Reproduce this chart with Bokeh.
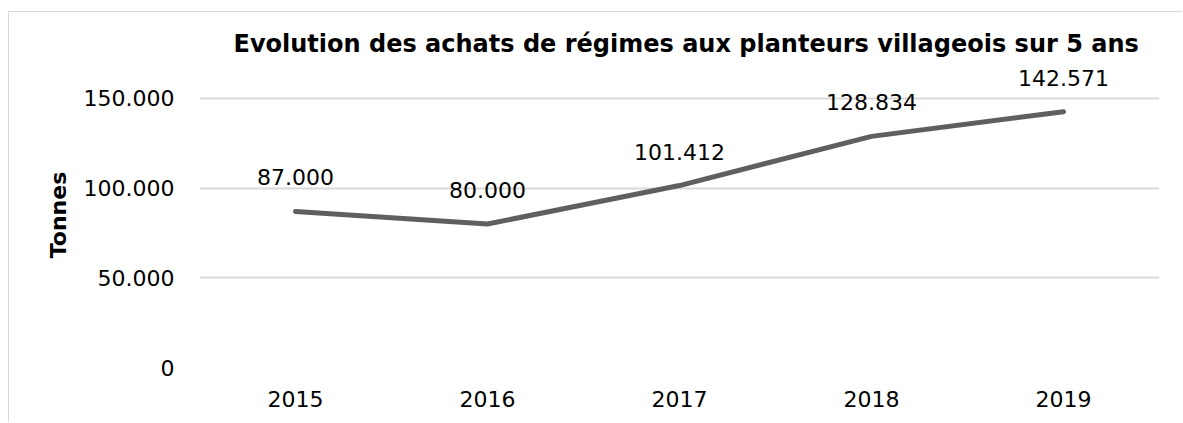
from bokeh.plotting import figure
from bokeh.models import Range1d, FactorRange, ColumnDataSource, LabelSet, Title, CustomJSTickFormatter, FixedTicker
from bokeh.core.properties import value
from bokeh.embed import file_html
from bokeh.resources import INLINE

years = ["2015", "2016", "2017", "2018", "2019"]
tonnes = [87000, 80000, 101412, 128834, 142571]
y_ticks = [0, 50000, 100000, 150000]
title_text = "Evolution des achats de régimes aux planteurs villageois sur 5 ans"
y_label = "Tonnes"

def fmt(v):
    return f"{v:,}".replace(",", ".")

labels = [fmt(v) for v in tonnes]

src = ColumnDataSource(dict(x=years, y=tonnes, lab=labels))

FONT = "DejaVu Sans"

p = figure(width=1174, height=411, x_range=FactorRange(*years, range_padding=0),
           y_range=Range1d(0, 170000), output_backend="svg", toolbar_location=None,
           min_border_left=190, min_border_right=24, min_border_top=50, min_border_bottom=56)
p.title = None
t = Title(text=title_text, text_font=FONT, text_font_size="24px", text_font_style="bold",
          text_color="#000000", align="left", offset=34, standoff=10,
          padding=dict(left=0, right=0, top=5, bottom=0))
p.add_layout(t, "above")

p.line(x="x", y="y", source=src, line_width=5, line_color="#5f5f5f",
       line_cap="round", line_join="round")

ls = LabelSet(x="x", y="y", text="lab", source=src, y_offset=34, text_align="center",
              text_baseline="middle", text_font=value(FONT), text_font_size=value("22px"),
              text_color="#000000")
p.add_layout(ls)

p.outline_line_color = None
p.background_fill_color = "white"
p.border_fill_color = "white"

p.xgrid.grid_line_color = None
p.ygrid.grid_line_color = "#d9d9d9"
p.ygrid.grid_line_width = 2
p.yaxis.ticker = FixedTicker(ticks=y_ticks)
p.yaxis.formatter = CustomJSTickFormatter(code="return tick.toFixed(0).replace(/\\B(?=(\\d{3})+(?!\\d))/g, '.');")

for ax in (p.xaxis[0], p.yaxis[0]):
    ax.axis_line_color = None
    ax.major_tick_line_color = None
    ax.minor_tick_line_color = None
    ax.major_tick_out = 0
    ax.major_tick_in = 0
    ax.major_label_text_font = FONT
    ax.major_label_text_font_size = "22px"
    ax.major_label_text_color = "#000000"

p.xaxis.major_label_standoff = 23
p.yaxis.major_label_standoff = 25
p.yaxis.axis_label = y_label
p.yaxis.axis_label_text_font = FONT
p.yaxis.axis_label_text_font_size = "22px"
p.yaxis.axis_label_text_font_style = "bold"
p.yaxis.axis_label_text_color = "#000000"
p.yaxis.axis_label_standoff = 10

p.styles = {"border-top": "1px solid #d9d9d9", "border-left": "1px solid #d9d9d9",
            "margin-top": "11px", "margin-left": "8px"}

open("out.html", "w").write(file_html(p, INLINE))
